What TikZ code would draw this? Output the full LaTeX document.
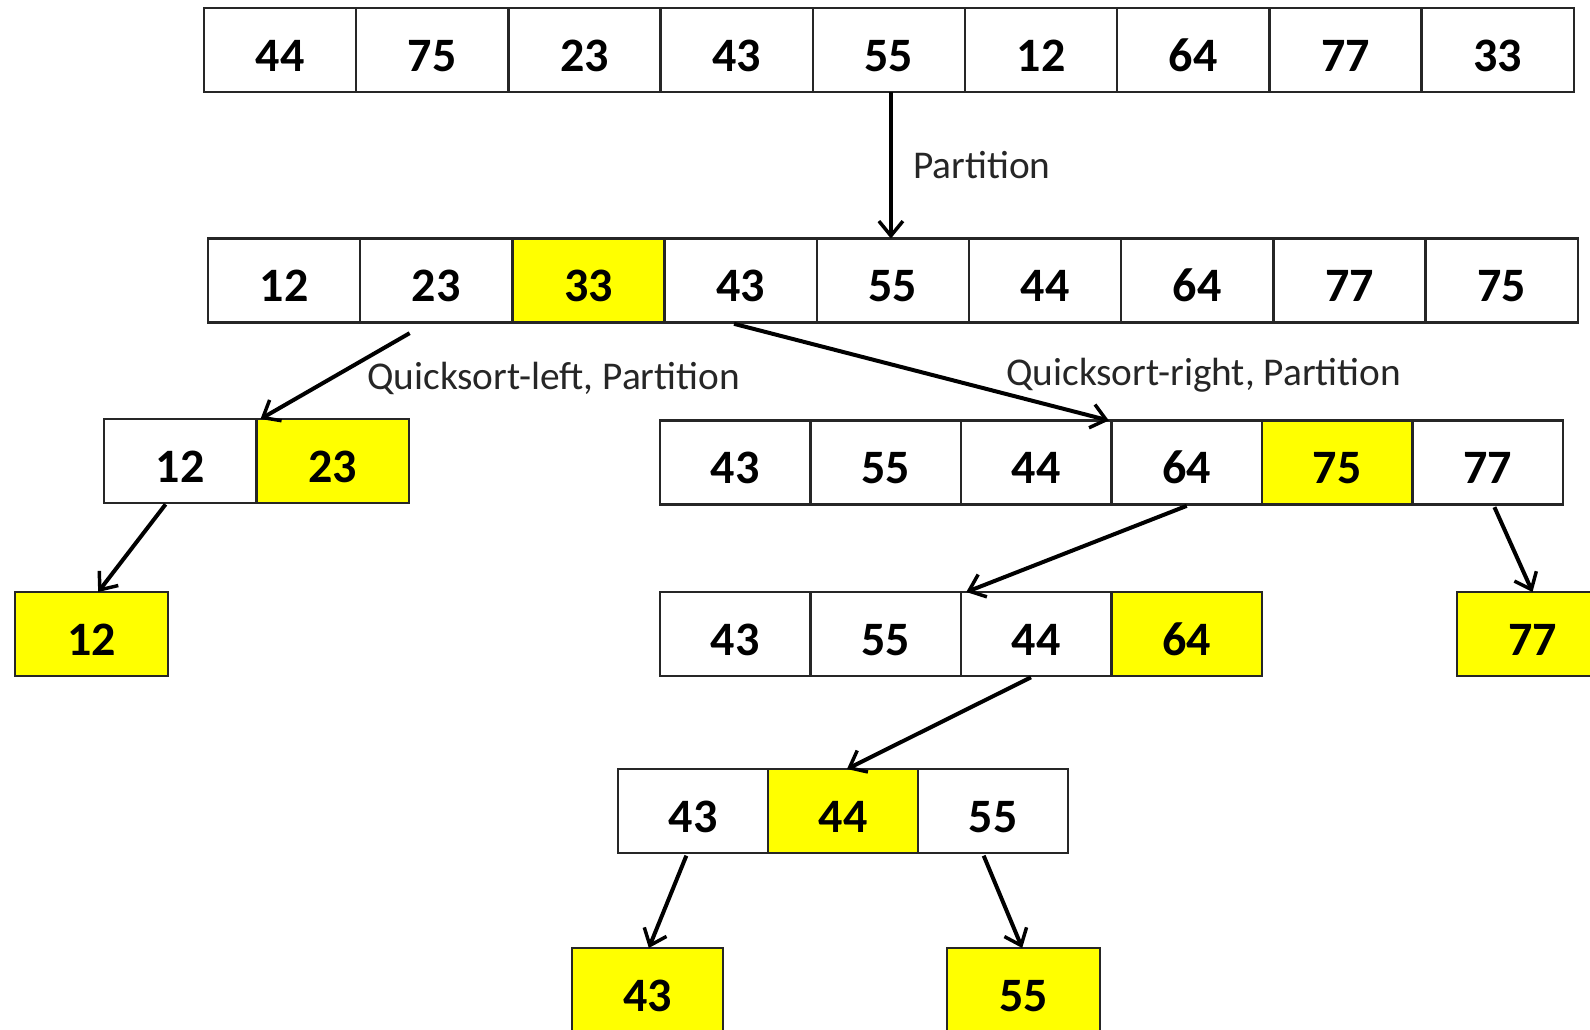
\documentclass[tikz,border=0pt]{standalone}
\usepackage{fontspec}
\setmainfont{Carlito}
\usetikzlibrary{arrows.meta}
\definecolor{hilite}{HTML}{FFFF00}
\definecolor{edge}{HTML}{262626}
\tikzset{
  cell/.style={draw=edge, line width=1.8pt, inner sep=0pt, outer sep=0pt,
    minimum height=63pt, text height=32pt, text depth=0pt,
    font=\bfseries\fontsize{36}{36}\selectfont},
  arr/.style={line width=3pt, draw=black,
    -{Straight Barb[length=11pt,width=18pt,line width=2.6pt]}},
  lbl/.style={inner sep=0pt, anchor=base west, text=black!85,
    font=\fontsize{29.5}{30}\selectfont}
}
\begin{document}
\begin{tikzpicture}[x=0.75pt,y=-0.75pt]
\path[fill=white,use as bounding box] (0,0) rectangle (1590,1029);

% initial array
\foreach \v [count=\i] in {44,75,23,43,55,12,64,77,33}
  \node[cell, minimum width=114.1pt, fill=white] (a\i) at ({204+152.2*(\i-0.5)},50) {\v};

% after the first partition
\foreach \v/\f [count=\i] in {12/white,23/white,33/hilite,43/white,55/white,44/white,64/white,77/white,75/white}
  \node[cell, minimum width=114.1pt, fill=\f] (b\i) at ({208+152.2*(\i-0.5)},280.5) {\v};

% left part
\foreach \v/\f [count=\i] in {12/white,23/hilite}
  \node[cell, minimum width=114.4pt, fill=\f] (c\i) at ({104+152.5*(\i-0.5)},461) {\v};

% right part
\foreach \v/\f [count=\i] in {43/white,55/white,44/white,64/white,75/hilite,77/white}
  \node[cell, minimum width=112.9pt, fill=\f] (d\i) at ({660+150.5*(\i-0.5)},462.5) {\v};

% third level
\node[cell, minimum width=114.8pt, fill=hilite] (e1) at (91.5,634) {12};
\foreach \v/\f [count=\i] in {43/white,55/white,44/white,64/hilite}
  \node[cell, minimum width=112.9pt, fill=\f] (f\i) at ({660+150.5*(\i-0.5)},634) {\v};
\node[cell, minimum width=113.3pt, fill=hilite] (g1) at (1532.5,634) {77};

% fourth level
\foreach \v/\f [count=\i] in {43/white,44/hilite,55/white}
  \node[cell, minimum width=112.5pt, fill=\f] (h\i) at ({618+150*(\i-0.5)},811) {\v};

% leaves
\node[cell, minimum width=113.3pt, fill=hilite] (k1) at (647.5,990) {43};
\node[cell, minimum width=114.8pt, fill=hilite] (k2) at (1023.5,990) {55};

% connectors
\draw[arr] ([xshift=1.5pt]a5.south) -- ([xshift=-1.5pt]b5.north);
\node[lbl] (p1) at (913,178) {Partition};

\draw[arr] ([xshift=-20pt,yshift=-8pt]b2.south) -- ([xshift=3pt]c1.north east);
\node[lbl] (p2) at (367,389) {Quicksort-left, Partition};

\draw[arr] ([xshift=-5pt,yshift=-1pt]b4.south) -- ([xshift=-2pt]d3.north east);
\node[lbl] (p3) at (1006,385) {Quicksort-right, Partition};

\draw[arr] ([xshift=-11pt,yshift=-1pt]c1.south) -- ([xshift=5pt]e1.north);
\draw[arr] ([yshift=-1pt]d4.south) -- ([xshift=4pt]f3.north west);
\draw[arr] ([xshift=5pt,yshift=-2pt]d6.south) -- (g1.north);
\draw[arr] ([xshift=-4pt,yshift=-1pt]f3.south) -- ([xshift=3pt]h2.north);
\draw[arr] ([xshift=-5pt,yshift=-2pt]h1.south) -- ([xshift=1pt]k1.north);
\draw[arr] ([xshift=-7pt,yshift=-2pt]h3.south) -- ([xshift=-1pt]k2.north);
\end{tikzpicture}
\end{document}
